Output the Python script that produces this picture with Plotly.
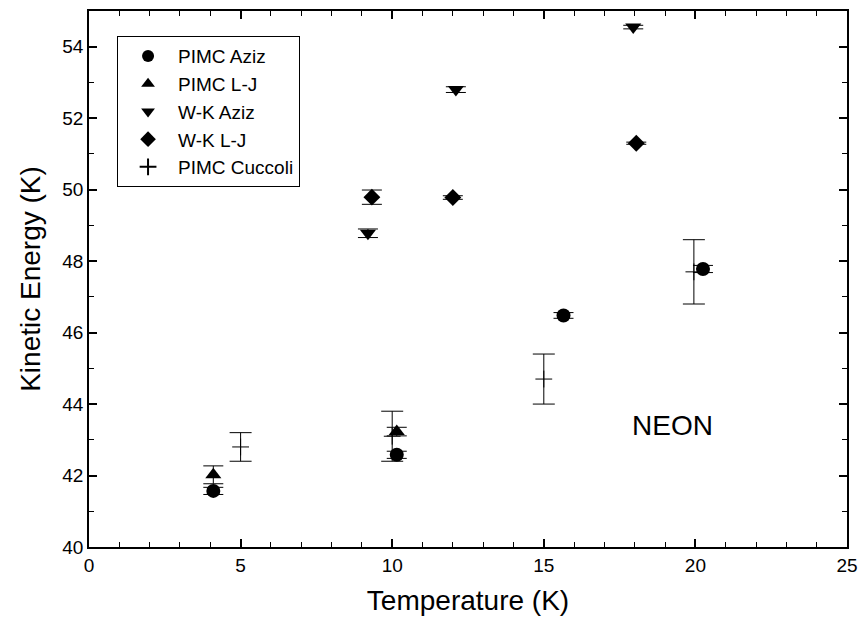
import plotly.graph_objects as go

# ---- data ----
pimc_aziz_T = [4.1, 10.15, 15.65, 20.25]
pimc_aziz_E = [41.57, 42.58, 46.48, 47.78]
pimc_aziz_err = [0.1, 0.1, 0.08, 0.1]

pimc_lj_T = [4.1, 10.15]
pimc_lj_E = [42.02, 43.23]
pimc_lj_err = [0.25, 0.12]

wk_aziz_T = [9.2, 12.1, 17.95]
wk_aziz_E = [48.78, 52.8, 54.55]
wk_aziz_err = [0.12, 0.08, 0.05]

wk_lj_T = [9.33, 12.0, 18.05]
wk_lj_E = [49.79, 49.78, 51.3]
wk_lj_err = [0.2, 0.05, 0.03]

cuccoli_T = [5.0, 10.0, 15.0, 19.95]
cuccoli_E = [42.8, 43.1, 44.7, 47.7]
cuccoli_err = [0.4, 0.7, 0.7, 0.9]

x_ticks = [0, 5, 10, 15, 20, 25]
y_ticks = [40, 42, 44, 46, 48, 50, 52, 54]

FONT = "Liberation Sans, Arial, sans-serif"

fig = go.Figure()

def add(name, T, E, err, symbol, size, capw=10, lw=0):
    fig.add_trace(go.Scatter(
        x=T, y=E, mode="markers", name=name,
        marker=dict(symbol=symbol, size=size, color="black",
                    line=dict(color="black", width=lw)),
        error_y=dict(type="data", array=err, visible=True,
                     color="black", thickness=1, width=capw),
    ))

add("PIMC Aziz", pimc_aziz_T, pimc_aziz_E, pimc_aziz_err, "circle", 14)
add("PIMC L-J", pimc_lj_T, pimc_lj_E, pimc_lj_err, "triangle-up", 14)
add("W-K Aziz", wk_aziz_T, wk_aziz_E, wk_aziz_err, "triangle-down", 14)
add("W-K L-J", wk_lj_T, wk_lj_E, wk_lj_err, "diamond", 13)
add("PIMC Cuccoli", cuccoli_T, cuccoli_E, cuccoli_err, "cross-thin", 12, capw=11, lw=1)

fig.add_annotation(x=19.25, y=43.4, text="NEON", showarrow=False,
                   font=dict(family=FONT, size=28, color="black"))

axis_common = dict(
    showline=True, linecolor="black", linewidth=1.5, mirror="ticks",
    ticks="inside", ticklen=8, tickwidth=1.5, tickcolor="black",
    showgrid=False, zeroline=False, automargin=False,
    tickfont=dict(family=FONT, size=19, color="black"),
)

minor = dict(dtick=1, ticks="inside", ticklen=5, tickwidth=1.2, tickcolor="black")

fig.update_layout(
    width=859, height=627,
    margin=dict(l=89, r=12, t=11, b=80),
    paper_bgcolor="white", plot_bgcolor="white",
    font=dict(family=FONT, color="black"),
    xaxis=dict(range=[0, 25], tickvals=x_ticks, minor=minor,
               title=dict(text="Temperature (K)", font=dict(family=FONT, size=28), standoff=16),
               **axis_common),
    yaxis=dict(range=[40, 55], tickvals=y_ticks, minor=minor,
               title=dict(text="Kinetic Energy (K)", font=dict(family=FONT, size=28), standoff=14),
               **axis_common),
    legend=dict(x=0.037, y=0.953, xanchor="left", yanchor="top",
                bgcolor="white", bordercolor="black", borderwidth=1,
                font=dict(family=FONT, size=19, color="black"),
                itemsizing="constant", itemwidth=50, tracegroupgap=4),
    showlegend=True,
)

fig.write_html("out.html", config={"displayModeBar": False},
               post_script="document.body.style.margin='0px';")
